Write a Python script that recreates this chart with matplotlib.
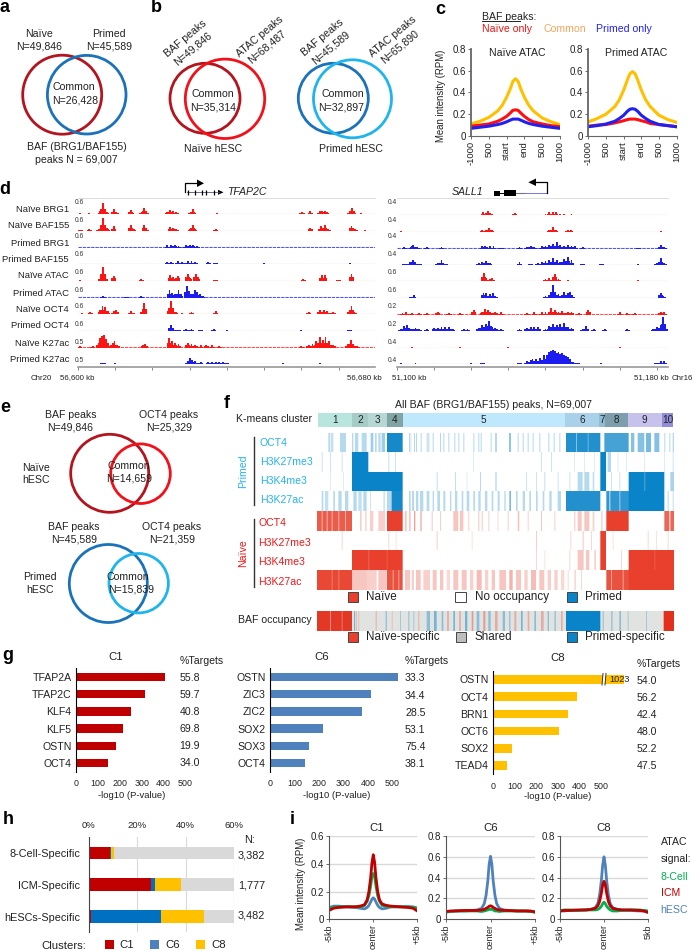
import matplotlib
matplotlib.use('Agg')

import matplotlib.pyplot as plt
import numpy as np
from matplotlib.colors import LinearSegmentedColormap
from matplotlib.patches import Circle, Rectangle, Polygon

plt.rcParams['font.family'] = ['Liberation Sans', 'DejaVu Sans']

W, H = 697, 951

# c: ATAC profiles
c_x = [0, .5, 1, 1.5, 1.75, 2, 2.2, 2.35, 2.5, 2.65, 2.8, 3, 3.25, 3.5, 4, 4.5, 5]
c_ticks = ['-1000', '500', 'start', 'end', '500', '1000']
c_n_common = [.11, .135, .17, .23, .28, .355, .43, .5, .525, .5, .43, .355, .28, .23, .165, .13, .105]
c_n_naive = [.09, .10, .11, .135, .155, .18, .21, .235, .24, .235, .21, .18, .15, .13, .11, .095, .085]
c_n_primed = [.07, .08, .09, .105, .115, .13, .145, .155, .155, .155, .145, .13, .115, .105, .09, .08, .07]
c_p_common = [.13, .16, .2, .27, .33, .42, .51, .57, .59, .57, .51, .42, .33, .27, .19, .15, .125]
c_p_naive = [.09, .10, .105, .12, .13, .14, .15, .155, .155, .155, .15, .14, .13, .115, .105, .095, .085]
c_p_primed = [.085, .095, .11, .135, .16, .19, .225, .245, .25, .245, .225, .19, .16, .135, .105, .095, .085]

# d: browser tracks, (kb from window start, height as share of the track range)
track_names = ['Naïve BRG1', 'Naïve BAF155', 'Primed BRG1', 'Primed BAF155', 'Naïve ATAC',
               'Primed ATAC', 'Naïve OCT4', 'Primed OCT4', 'Naïve K27ac', 'Primed K27ac']
track_colors = ['r', 'r', 'b', 'b', 'r', 'b', 'r', 'b', 'r', 'b']
left_scale = ['0.6'] * 8 + ['0.5'] * 2
right_scale = ['0.4', '0.4', '0.4', '0.4', '0.6', '0.6', '0.2', '0.2', '0.4', '0.4']

l_n_brg1 = [(.6, .06), (2.9, .08), (6, .2), (6.7, .7), (7.4, .35), (8.2, .1), (9.6, .33), (10.2, .12), (14.2, .25), (14.8, .1),
            (17.1, .12), (17.8, .4), (18.4, .12), (24, .12), (24.8, .25), (25.6, .2), (26.4, .15), (29.8, .1), (30.8, .33),
            (31.5, .1), (37.3, .08), (54, .05), (60.2, .12), (62.4, .19), (65, .18), (65.5, .23), (66.4, .23), (67.2, .1),
            (73.1, .15), (73.6, .38), (74.4, .1), (76, .06), (78, .05)]
l_n_baf155 = [(.6, .08), (3, .15), (5.5, .12), (6.2, .3), (6.7, .8), (7.3, .4), (8, .15), (9.6, .3), (14.2, .38), (15, .12),
              (17.8, .4), (18.4, .15), (24.8, .25), (25.6, .2), (26.4, .12), (30.2, .15), (30.8, .38), (31.4, .12), (37, .1),
              (62.4, .2), (65.2, .3), (66.3, .38), (67.2, .15), (73.5, .33), (74.5, .12), (77, .06)]
l_p_brg1 = [(24, .15), (25, .15), (26, .18), (27, .12), (29, .15), (30, .2), (30.8, .2), (32, .12)]
l_p_baf155 = [(24, .12), (25, .15), (26.8, .2), (28, .12), (29.5, .18), (30.5, .2), (31.5, .15), (35, .12), (37, .1), (50, .06), (73, .08)]
l_n_atac = [(.5, .05), (6.2, .3), (6.7, .85), (7.3, .3), (9.6, .33), (17, .1), (24.8, .4), (25.6, .25), (26.8, .33), (29.5, .45),
            (30, .2), (31.6, .45), (32.2, .25), (37, .08), (60.5, .15), (65.5, .4), (66.3, .38), (70, .08), (73.5, .45)]
l_p_atac = [(6.7, .08), (13, .06), (17, .1), (24.6, .45), (25.2, .3), (26, .2), (26.6, .2), (27, .5), (27.6, .2), (29.3, .75),
            (29.9, .4), (31, .25), (31.4, .5), (32, .35), (32.8, .2), (33.5, .1)]
l_n_oct4 = [(1, .1), (3.3, .12), (6, .3), (6.6, .5), (7.2, .45), (8, .2), (9.6, .2), (10.2, .25), (14.2, .2), (15, .1), (17.4, .25),
            (17.8, .7), (24.6, .4), (25, .85), (25.6, .35), (26.3, .15), (28, .1), (30.5, .12), (37, .2), (62, .12), (65, .3),
            (66, .25), (67, .2), (68.5, .12), (73, .25), (73.5, .55), (74.2, .15)]
l_p_oct4 = [(25, .35), (25.6, .15), (27, .08), (29, .1), (30.5, .1), (33, .08), (36.5, .12), (40, .06), (60, .05), (73, .08)]
l_n_k27ac = [(.5, .1), (4, .1), (5.5, .3), (6, .6), (6.5, .75), (7, .8), (7.5, .55), (8.2, .25), (9.3, .3), (9.8, .4), (10.5, .2),
             (17.5, .2), (18, .25), (24.5, .6), (25.2, .4), (26, .3), (27, .25), (29.5, .3), (30.5, .25), (31.5, .2), (33, .15),
             (34.5, .2), (36, .15), (38, .1), (60, .12), (62, .2), (63, .25), (64, .4), (65, .65), (65.8, .5), (66.5, .65),
             (67.5, .4), (68.5, .2), (72.5, .25), (73.3, .5), (74, .25), (75, .08)]
l_p_k27ac = [(6.7, .1), (10, .08), (29.5, .2), (30, .38), (30.6, .25), (31.5, .2), (33, .12), (35, .15), (36, .15), (37, .15),
             (38, .15), (39, .12), (40, .1), (55, .06), (65, .06)]

r_n_brg1 = [(2, .05), (4, .05), (23.2, .2), (24, .1), (24.5, .25), (25.2, .12), (31.7, .12), (40, .1), (41, .2), (42, .22),
            (42.8, .2), (43.8, .1), (45, .08), (47, .06), (54, .05), (70, .05)]
r_n_baf155 = [(1, .05), (23, .12), (24, .15), (24.7, .25), (25.5, .1), (41, .12), (42, .3), (42.8, .15), (46, .15), (46.8, .1), (71, .06)]
r_p_brg1 = [(2, .08), (4, .15), (4.3, .22), (5.5, .12), (8, .1), (12, .12), (23, .15), (23.8, .2), (25, .15), (26, .15), (28, .06),
            (33, .12), (35, .1), (36, .2), (37, .1), (39, .15), (40, .18), (41, .25), (42, .3), (43, .4), (44, .25), (45, .18),
            (46, .25), (47, .2), (48, .15), (50, .08), (65, .06), (71, .25), (72, .1)]
r_p_baf155 = [(2, .1), (3.5, .2), (4.3, .35), (5, .2), (6, .1), (11, .12), (12, .33), (13, .1), (22, .15), (23, .2), (24, .25), (25, .15),
              (33, .2), (36, .1), (38, .15), (39, .2), (40, .25), (41, .3), (42, .45), (43, .3), (44, .2), (45, .4), (46, .5), (47, .3),
              (50, .1), (55, .1), (65, .06), (70, .15), (71, .45), (72, .15)]
r_n_atac = [(23.4, .5), (24, .2), (25, .15), (25.7, .2), (40, .15), (41, .2), (42, .2), (42.5, .48), (43.5, .15), (46, .08), (65, .06)]
r_p_atac = [(4, .1), (4.5, .2), (23.3, .35), (24, .3), (25, .25), (25.8, .3), (26.5, .15), (40, .15), (41, .2), (41.5, .4), (42, .8),
            (42.7, .4), (43.5, .25), (44.5, .2), (45, .4), (46, .3), (46.5, .42), (47.2, .2), (71, .35), (71.7, .15)]
r_n_oct4 = [(1.5, .1), (2.5, .15), (4, .1), (6, .1), (8, .1), (11, .2), (14, .1), (17, .12), (20.7, .3), (23, .2), (23.8, .35), (24.5, .3),
            (25.5, .1), (26.5, .2), (28, .15), (35, .1), (37, .15), (39, .15), (40, .15), (41.5, .4), (42.5, .3), (43.5, .2), (44.5, .25),
            (46, .2), (47, .2), (49, .1), (51.5, .3), (60, .15), (62, .1), (64, .1), (71, .2), (72, .15)]
r_p_oct4 = [(1, .1), (2, .3), (2.6, .35), (3.2, .2), (4, .15), (5, .2), (6, .15), (8, .1), (10, .2), (11, .2), (12, .25), (13, .25), (14, .25),
            (15, .15), (18, .15), (19, .15), (22, .2), (23, .4), (24, .45), (24.8, .6), (25.5, .25), (26.5, .2), (28, .1), (33, .15), (35, .2),
            (36, .25), (37, .25), (38, .25), (40, .15), (41, .3), (42, .45), (43, .4), (44, .45), (45, .5), (46, .25), (47, .2), (50, .15),
            (51, .3), (53, .15), (56, .1), (62, .15), (69, .15), (70, .25), (71, .35), (71.7, .85), (72.3, .3)]
r_n_k27ac = [(4, .05), (17, .06), (30, .05), (60, .05)]
r_p_k27ac = [(1, .05), (5, .06), (20, .08), (23, .1), (33, .1), (35, .2), (36, .25), (36.5, .35), (37.5, .3), (38.5, .4), (39.5, .55), (40.5, .6),
             (41, .75), (41.5, .8), (42, .9), (42.5, .8), (43, .7), (43.5, .75), (44, .65), (44.5, .7), (45, .55), (45.5, .5), (46, .45),
             (46.5, .3), (47.5, .15), (48.5, .1), (55, .05), (70, .1), (71, .2), (72, .18)]

left_tracks = [l_n_brg1, l_n_baf155, l_p_brg1, l_p_baf155, l_n_atac, l_p_atac, l_n_oct4, l_p_oct4, l_n_k27ac, l_p_k27ac]
right_tracks = [r_n_brg1, r_n_baf155, r_p_brg1, r_p_baf155, r_n_atac, r_p_atac, r_n_oct4, r_p_oct4, r_n_k27ac, r_p_k27ac]

# f: heatmap, (first column, last column, level). 1070 columns along the peak order
cluster_ids = ['1', '2', '3', '4', '5', '6', '7', '8', '9', '10']
cluster_edges = [325, 426, 475, 531, 578, 1065, 1168, 1186, 1253, 1356, 1390]
cluster_colors = ['#b8e6de', '#a6ccc8', '#b5d8d4', '#7fa5a5', '#bfe8fc', '#a9d2ea', '#8fbdd2', '#7d9fad', '#c6c2ec', '#918dd8']

p_oct4 = [(355, 360, .3), (362, 370, .25), (390, 408, .3), (426, 430, .3), (435, 445, .3), (455, 470, .3), (482, 490, .4), (495, 500, .3),
          (505, 512, .3), (515, 525, .4), (531, 578, .95), (597, 600, .3), (601, 604, .2), (612, 615, .3), (618, 621, .3), (632, 635, .3),
          (650, 653, .3), (655, 658, .3), (668, 671, .3), (690, 693, .3), (700, 703, .3), (715, 718, .3), (733, 736, .3), (745, 748, .3),
          (760, 763, .3), (790, 793, .3), (805, 808, .3), (812, 815, .3), (842, 845, .3), (855, 858, .3), (895, 899, .7), (920, 923, .3),
          (935, 938, .3), (950, 953, .3), (965, 968, .3), (985, 988, .3), (1012, 1015, .3), (1028, 1031, .3), (1045, 1048, .3),
          (1065, 1095, .9), (1095, 1098, .5), (1098, 1130, .9), (1130, 1133, .6), (1133, 1168, .9), (1180, 1253, .75), (1260, 1270, .5),
          (1280, 1300, .5), (1305, 1320, .55), (1330, 1345, .5), (1360, 1363, .3), (1375, 1378, .3), (1385, 1390, .3)]
p_me3 = [(335, 338, .2), (360, 363, .2), (395, 398, .2), (426, 475, 1), (535, 538, .25), (555, 558, .2), (790, 792, .2), (990, 993, .2),
         (1020, 1023, .2), (1090, 1092, .2), (1120, 1122, .2), (1150, 1152, .2), (1168, 1185, 1), (1190, 1200, .3), (1220, 1222, .2),
         (1245, 1247, .2), (1300, 1302, .2), (1360, 1362, .2), (1385, 1388, .2)]
p_k4 = [(360, 362, .2), (400, 402, .2), (426, 578, 1), (680, 683, .25), (735, 738, .25), (770, 772, .2), (810, 813, .3), (855, 858, .2),
        (945, 948, .2), (975, 978, .2), (1000, 1003, .25), (1040, 1043, .2), (1075, 1078, .2), (1100, 1115, .3), (1120, 1135, .3),
        (1145, 1150, .25), (1168, 1185, 1), (1200, 1203, .2), (1225, 1228, .2), (1253, 1300, 1), (1300, 1303, .7), (1303, 1360, 1), (1378, 1390, .35)]
p_k27 = [(335, 340, .3), (345, 355, .25), (370, 375, .3), (385, 395, .3), (405, 415, .3), (430, 440, .3), (445, 455, .25), (460, 470, .3),
         (480, 483, .2), (520, 525, .2), (531, 545, .3), (545, 578, .95), (597, 602, .3), (606, 612, .3), (618, 625, .3), (630, 640, .3),
         (650, 658, .3), (668, 672, .3), (682, 690, .3), (700, 706, .3), (720, 724, .3), (735, 742, .3), (755, 760, .3), (770, 778, .3),
         (790, 795, .3), (805, 812, .3), (825, 832, .3), (845, 850, .3), (860, 866, .3), (880, 884, .3), (895, 900, .55), (915, 920, .3),
         (935, 942, .3), (955, 960, .3), (975, 980, .3), (995, 1000, .3), (1015, 1022, .3), (1040, 1050, .3), (1065, 1168, .9),
         (1186, 1195, .85), (1195, 1198, .2), (1198, 1225, .85), (1225, 1228, .4), (1228, 1253, .85), (1253, 1360, 1), (1370, 1373, .3), (1385, 1388, .25)]
n_oct4 = [(321, 335, .85), (335, 338, .4), (338, 350, .85), (350, 353, .4), (353, 365, .85), (365, 368, .4), (368, 385, .85), (385, 388, .4),
          (388, 405, .85), (405, 408, .4), (408, 426, .85), (450, 455, .25), (465, 470, .2), (480, 490, .25), (505, 525, .25), (531, 578, 1),
          (585, 590, .3), (597, 602, .3), (612, 616, .5), (630, 636, .3), (665, 668, .3), (690, 693, .25), (730, 745, .3), (750, 760, .3),
          (775, 778, .25), (805, 808, .3), (815, 818, .3), (835, 838, .25), (860, 862, .3), (890, 893, .25), (920, 925, .3), (950, 953, .25),
          (990, 993, .3), (1030, 1033, .25), (1090, 1093, .3), (1100, 1112, .3), (1120, 1135, .3), (1145, 1150, .25), (1170, 1175, .2),
          (1186, 1253, 1), (1360, 1375, .8), (1378, 1390, .8)]
n_me3 = [(395, 398, .2), (535, 538, .2), (557, 560, .15), (680, 683, .25), (785, 788, .15), (975, 978, .25), (1078, 1081, .2), (1115, 1118, .3),
         (1140, 1143, .2), (1168, 1185, 1), (1205, 1208, .15), (1310, 1313, .2), (1335, 1338, .15), (1370, 1373, .2)]
n_k4 = [(426, 475, 1), (475, 478, .8), (478, 530, 1), (530, 533, .85), (533, 578, 1), (975, 978, .2), (1000, 1003, .15), (1075, 1078, .2),
        (1100, 1118, .3), (1125, 1135, .3), (1150, 1155, .25), (1168, 1185, 1), (1230, 1233, .2), (1253, 1330, 1), (1330, 1333, .85), (1333, 1390, 1)]
n_k27 = [(321, 365, .95), (365, 368, .7), (368, 385, .95), (385, 388, .7), (388, 426, .95), (426, 470, .3), (470, 500, .25), (505, 530, .3),
         (531, 548, .9), (548, 551, .5), (551, 565, .9), (565, 568, .5), (568, 578, .9), (585, 600, .3), (605, 612, .25), (618, 632, .3),
         (640, 660, .25), (668, 680, .3), (690, 700, .3), (710, 720, .2), (730, 745, .3), (755, 770, .3), (780, 790, .25), (800, 815, .35),
         (825, 835, .25), (845, 855, .3), (865, 885, .3), (895, 905, .4), (915, 930, .3), (940, 950, .25), (960, 975, .35), (985, 1000, .3),
         (1010, 1020, .25), (1030, 1040, .25), (1050, 1060, .2), (1070, 1073, .2), (1090, 1095, .2), (1110, 1113, .2), (1186, 1200, .9),
         (1200, 1203, .5), (1203, 1235, .9), (1235, 1238, .5), (1238, 1253, .9), (1253, 1390, 1)]
# BAF occupancy: -1 naive specific, 0 shared, +1 primed specific
baf_occ = [(321, 426, -.95), (360, 363, -.5), (395, 398, -.6), (432, 436, .5), (437, 440, -.3), (445, 448, -.2), (497, 500, -.3), (527, 530, .5),
           (545, 548, -.2), (570, 573, .3), (595, 598, .4), (610, 613, .3), (625, 628, -.3), (650, 660, .4), (672, 680, .5), (695, 700, .4),
           (712, 716, -.4), (730, 735, .5), (748, 752, -.4), (765, 772, .5), (785, 790, -.4), (800, 808, .4), (820, 826, -.4), (835, 842, .4),
           (855, 860, -.3), (875, 882, .4), (895, 898, .5), (910, 916, -.3), (930, 935, .5), (950, 955, -.3), (970, 975, .4), (990, 998, -.3),
           (1010, 1014, .4), (1030, 1035, .3), (1050, 1055, -.3), (1065, 1168, 1), (1175, 1178, .4), (1200, 1205, .3), (1225, 1230, .4),
           (1250, 1253, .3), (1305, 1308, .3), (1358, 1390, -1)]

# g: motif enrichment
c1_names = ['TFAP2A', 'TFAP2C', 'KLF4', 'KLF5', 'OSTN', 'OCT4']
c1_vals = [405, 315, 252, 216, 182, 147]
c1_pct = ['55.8', '59.7', '40.8', '69.8', '19.9', '34.0']
c6_names = ['OSTN', 'ZIC3', 'ZIC2', 'SOX2', 'SOX3', 'OCT4']
c6_vals = [522, 414, 374, 214, 158, 142]
c6_pct = ['33.3', '34.4', '28.5', '53.1', '75.4', '38.1']
c8_names = ['OSTN', 'OCT4', 'BRN1', 'OCT6', 'SOX2', 'TEAD4']
c8_vals = [606, 387, 344, 302, 86, 63]  # first bar runs over an axis break, its real value is 1023
c8_pct = ['54.0', '56.2', '42.4', '48.0', '52.2', '47.5']
g_ticks = [0, 100, 200, 300, 400, 500]

# h: share of specific peaks per cluster
h_names = ['8-Cell-Specific', 'ICM-Specific', 'hESCs-Specific']
h_c1 = [8.8, 25.7, .8]
h_c6 = [.4, 1.5, 28.9]
h_c8 = [1.2, 10.9, 17.9]
h_n = ['3,382', '1,777', '3,482']

# i: ATAC signal at the cluster peaks
i_x = [-5, -4.5, -4, -3, -2, -1.5, -1, -.7, -.5, -.3, -.15, 0, .15, .3, .5, .7, 1, 1.5, 2, 3, 4, 4.5, 5]
i1_icm = [.065, .08, .085, .09, .09, .095, .105, .14, .2, .3, .41, .465, .41, .3, .2, .14, .11, .1, .095, .09, .085, .08, .06]
i1_8c = [.08, .085, .09, .09, .09, .09, .1, .13, .17, .24, .31, .33, .31, .24, .17, .13, .1, .095, .09, .09, .09, .085, .08]
i1_hesc = [.085, .095, .095, .09, .085, .08, .075, .085, .1, .125, .145, .155, .145, .125, .1, .085, .075, .08, .09, .09, .09, .09, .08]
i6_icm = [.075, .08, .08, .085, .085, .085, .09, .095, .105, .115, .125, .13, .125, .115, .105, .095, .09, .085, .085, .08, .08, .08, .07]
i6_8c = [.07, .075, .08, .08, .08, .08, .075, .08, .085, .09, .095, .095, .095, .09, .08, .08, .075, .08, .08, .08, .08, .075, .07]
i6_hesc = [.07, .075, .08, .08, .085, .09, .105, .15, .23, .37, .53, .605, .53, .37, .23, .15, .105, .09, .085, .08, .08, .075, .07]
i8_icm = [.08, .085, .085, .09, .09, .095, .105, .13, .17, .25, .33, .365, .33, .25, .17, .13, .105, .095, .09, .09, .085, .08, .065]
i8_8c = [.08, .09, .09, .085, .09, .09, .09, .095, .105, .125, .15, .165, .15, .125, .105, .09, .08, .08, .085, .09, .09, .085, .08]
i8_hesc = [.08, .08, .085, .085, .09, .095, .11, .15, .23, .37, .52, .6, .52, .37, .23, .15, .11, .095, .09, .085, .08, .08, .07]

RED_D, RED, BLUE_D, BLUE_L = '#b3141d', '#f2111a', '#1a72ba', '#1fb5ec'
HM_RED, HM_BLUE = '#e8402c', '#0a84c8'
C1_COL, C6_COL, C8_COL, GREY = '#c00000', '#4f81bd', '#ffc000', '#d9d9d9'
TXT = '#222222'

fig = plt.figure(figsize=(W / 100, H / 100), dpi=100)


def px_axes(x0, y0, x1, y1):
    return fig.add_axes([x0 / W, 1 - y1 / H, (x1 - x0) / W, (y1 - y0) / H])


# overlay in picture pixels, for the labels and the Venn rings
ov = fig.add_axes([0, 0, 1, 1], zorder=10)
ov.set_xlim(0, W)
ov.set_ylim(H, 0)
ov.axis('off')


def t(x, y, s, size=7.6, ha='center', color=TXT, **kw):
    ov.text(x, y, s, fontsize=size, ha=ha, va='center', color=color, **kw)


def ring(x, y, r, col):
    ov.add_patch(Circle((x, y), r, fill=False, ec=col, lw=2.0))


def swatch(x0, y0, x1, y1, col, ec='#444444'):
    ov.add_patch(Rectangle((x0, y0), x1 - x0, y1 - y0, fc=col, ec=ec, lw=.7))


for s, x, y in [('a', 5, 8), ('b', 156, 8), ('c', 440, 9), ('d', 5, 190), ('e', 5, 408),
                ('f', 227, 403), ('g', 8, 655), ('h', 8, 819), ('i', 292, 820)]:
    t(x, y, s, size=13, color='k', fontweight='bold')

# a
ring(62.2, 94.7, 39.5, RED_D)
ring(86.7, 94.7, 39.3, BLUE_D)
for x, y, s in [(39.5, 34, 'Naïve'), (39.5, 46.7, 'N=49,846'), (108.7, 34, 'Primed'), (108.7, 46.7, 'N=45,589'),
                (74.3, 87.3, 'Common'), (74.7, 100.7, 'N=26,428'), (76.7, 147, 'BAF (BRG1/BAF155)'), (76, 160, 'peaks N = 69,007')]:
    t(x, y, s)

# b
ring(205, 98.3, 35, RED_D)
ring(225, 98.8, 39.7, RED)
ring(333.3, 98.3, 35, BLUE_D)
ring(352.5, 98.8, 39, BLUE_L)
for x, y, s in [(186, 39, 'BAF peaks'), (193, 49, 'N=49,846'), (260, 37, 'ATAC peaks'), (267, 47, 'N=68,487'),
                (323, 38, 'BAF peaks'), (331, 48, 'N=45,589'), (393, 37, 'ATAC peaks'), (400, 47, 'N=65,890')]:
    t(x, y, s, rotation=40, rotation_mode='anchor')
for x, y, s in [(213, 94, 'Common'), (213, 107, 'N=35,314'), (343, 94, 'Common'), (341, 107, 'N=32,897'),
                (213, 149, 'Naïve hESC'), (351, 149, 'Primed hESC')]:
    t(x, y, s)

# c
t(482, 17, 'BAF peaks:', ha='left')
ov.plot([482, 520], [21, 21], color=TXT, lw=.7)
t(482, 29, 'Naïve only', ha='left', color='#f01515')
t(543, 29, 'Common', ha='left', color='#f5a55c')
t(596, 29, 'Primed only', ha='left', color='#2222ee')
t(517, 53, 'Naïve ATAC')
t(636, 53, 'Primed ATAC')
t(441, 96, 'Mean intensity (RPM)', size=6.9, rotation=90)
for rect, common, naive, primed in [((471, 48.7, 560, 136), c_n_common, c_n_naive, c_n_primed),
                                    ((588.3, 48.7, 676.7, 136), c_p_common, c_p_naive, c_p_primed)]:
    ax = px_axes(*rect)
    ax.plot(c_x, common, color='#ffc000', lw=2.2)
    ax.plot(c_x, naive, color='#ff1010', lw=2.2)
    ax.plot(c_x, primed, color='#2020f0', lw=2.2)
    ax.set_xlim(0, 5)
    ax.set_ylim(0, .8)
    ax.set_yticks([0, .2, .4, .6, .8])
    ax.set_yticklabels(['0', '0.2', '0.4', '0.6', '0.8'], fontsize=7, color=TXT)
    ax.set_xticks(range(6))
    ax.set_xticklabels(c_ticks, rotation=90, fontsize=6.8, color=TXT)
    ax.tick_params(length=2, pad=1.5, width=.6, color='#555555')
    ax.spines[['top', 'right']].set_visible(False)
    ax.spines[['left', 'bottom']].set_color('#666666')
    ax.spines['left'].set_linewidth(1.3)
    ax.patch.set_alpha(0)

# d
left_base = [214.3, 231, 247.7, 264.3, 281, 297.7, 314.3, 331, 347.7, 364.3]
right_base = [215.3, 232, 248.7, 265.3, 281.3, 298.3, 314.7, 331, 348, 364.3]
label_y = [209, 226, 243, 259, 276, 293, 309, 326, 343, 359]
scale_y = [202, 220, 237, 255, 272, 290, 307, 325, 343, 360]
TRACK_COL = {'r': '#ff1414', 'b': '#1c1cf0'}


def draw_tracks(x0, x1, xmax, bases, tracks):
    for base, pts, c in zip(bases, tracks, track_colors):
        ax = px_axes(x0, base - 16, x1, base)
        pos = np.array([p[0] for p in pts])
        val = np.array([p[1] for p in pts])
        # each peak gets a wider foot under the narrow tip
        ax.bar(pos, val * .5, width=1.4, color=TRACK_COL[c], lw=0)
        ax.bar(pos, val, width=.5, color=TRACK_COL[c], lw=0)
        ax.plot([0, xmax], [.03, .03], color=TRACK_COL[c], lw=.8, ls=(0, (3, .8)), alpha=.75)
        ax.set_xlim(0, xmax)
        ax.set_ylim(0, 1)
        ax.axis('off')
    rul = px_axes(x0, 362, x1, 367)
    rul.set_xlim(0, xmax)
    rul.set_xticks(np.arange(0, xmax + .1, 10))
    rul.set_yticks([])
    rul.set_xticklabels([])
    rul.tick_params(length=2.5, width=.7, color='#888888')
    rul.spines[['top', 'left', 'right']].set_visible(False)
    rul.spines['bottom'].set_color('#999999')
    rul.spines['bottom'].set_linewidth(1.2)
    rul.patch.set_alpha(0)
    ov.plot([x0, x1], [198, 198], color='#dddddd', lw=.7)


draw_tracks(78, 375, 79.8, left_base, left_tracks)
draw_tracks(397, 668, 73, right_base, right_tracks)
for name, y in zip(track_names, label_y):
    t(69, y, name, size=6.8, ha='right')
for a, b, y in zip(left_scale, right_scale, scale_y):
    t(74.3, y, a, size=4.8, ha='left', color='#333333')
    t(387.7, y, b, size=4.8, ha='left', color='#333333')
for x, s in [(41, 'Chr20'), (77, '56,600 kb'), (364, '56,680 kb'), (409, '51,100 kb'), (651, '51,180 kb'), (682, 'Chr16')]:
    t(x, 378, s, size=5.7)

# gene models
ov.plot([185, 185, 198], [192, 183.3, 183.3], color='k', lw=.9)
ov.add_patch(Polygon([(197, 179.5), (204, 183.3), (197, 187)], fc='k', ec='none'))
ov.plot([187, 219], [192.3, 192.3], color='#555577', lw=.6)
ov.vlines([188.3, 195, 202.3, 205.7, 214.3], 189.5, 195, color='k', lw=.9)
ov.add_patch(Polygon([(218, 189.8), (223.5, 192.3), (218, 194.8)], fc='k', ec='none'))
t(227, 192, 'TFAP2C', size=7.6, ha='left', style='italic')
t(452, 192, 'SALL1', size=7.6, ha='left', style='italic')
ov.plot([494, 516], [193.3, 193.3], color='k', lw=.7)
ov.plot([516, 525], [193.3, 193.3], color='#777777', lw=.8)
ov.plot([525, 547.3], [193.3, 193.3], color='#7777dd', lw=.7)
ov.add_patch(Rectangle((494, 191), 6, 4.6, fc='k', ec='none'))
ov.add_patch(Rectangle((504, 190.3), 12, 6, fc='k', ec='none'))
ov.plot([547.3, 547.3, 535], [193.3, 182.3, 182.3], color='k', lw=.9)
ov.add_patch(Polygon([(536, 178.5), (528.3, 182.3), (536, 186)], fc='k', ec='none'))

# e
ring(109.7, 473.3, 39, RED_D)
ring(140.5, 473.7, 29.8, RED)
ring(108.3, 583.5, 39, BLUE_D)
ring(138.7, 583.2, 29.7, BLUE_L)
for x, y, s in [(70.3, 415.3, 'BAF peaks'), (70.3, 427.7, 'N=49,846'), (169, 415.3, 'OCT4 peaks'), (169, 427.7, 'N=25,329'),
                (129, 465.7, 'Common'), (129, 478.3, 'N=14,659'), (73.7, 526.7, 'BAF peaks'), (73.7, 539, 'N=45,589'),
                (172, 526.7, 'OCT4 peaks'), (172, 539, 'N=21,359'), (128.3, 576.7, 'Common'), (130.7, 589.3, 'N=15,839'),
                (39.7, 577.3, 'Primed'), (39.7, 590, 'hESC')]:
    t(x, y, s)
t(22.3, 467.7, 'Naïve', ha='left')
t(22.3, 480.3, 'hESC', ha='left')


# f
def heat_row(items):
    # 1070 fine columns, averaged down by 3 to one cell per picture pixel
    row = np.zeros(1068)
    for a, b, v in items:
        row[a - 321:b - 321] = v
    return row.reshape(-1, 3).mean(axis=1)


HX0, HX1 = 317, 673.3
ax = px_axes(HX0, 433, HX1, 511)
ax.imshow([heat_row(r) for r in [p_oct4, p_me3, p_k4, p_k27]], aspect='auto', vmin=0, vmax=1, interpolation='nearest',
          cmap=LinearSegmentedColormap.from_list('p', ['white', HM_BLUE]))
ax.axis('off')
ax = px_axes(HX0, 511, HX1, 590)
ax.imshow([heat_row(r) for r in [n_oct4, n_me3, n_k4, n_k27]], aspect='auto', vmin=0, vmax=1, interpolation='nearest',
          cmap=LinearSegmentedColormap.from_list('n', ['white', HM_RED]))
ax.axis('off')
ax = px_axes(HX0, 611, HX1, 631)
ax.imshow([heat_row(baf_occ)], aspect='auto', vmin=-1, vmax=1, interpolation='nearest',
          cmap=LinearSegmentedColormap.from_list('o', ['#e3301c', '#e2e4e2', HM_BLUE]))
ax.axis('off')

ax = px_axes(HX0, 413, HX1, 427)
ax.bar(cluster_edges[:-1], [1] * 10, width=np.diff(cluster_edges), align='edge', color=cluster_colors, lw=0)
ax.set_xlim(321, 1390)
ax.set_ylim(0, 1)
ax.axis('off')
for i, s in enumerate(cluster_ids):
    mid = (cluster_edges[i] + cluster_edges[i + 1]) / 2
    t(HX0 + (mid - 321) * (HX1 - HX0) / 1069, 420, s, size=7.2)

t(493.3, 405, 'All BAF (BRG1/BAF155) peaks, N=69,007', size=7.6)
t(312, 419.3, 'K-means cluster', size=7.6, ha='right')
for y, s in zip([442.7, 461.7, 481, 500.3], ['OCT4', 'H3K27me3', 'H3K4me3', 'H3K27ac']):
    t(260, y, s, ha='left', color='#25b4ea')
for y, s in zip([523.3, 542.7, 562, 581.7], ['OCT4', 'H3K27me3', 'H3K4me3', 'H3K27ac']):
    t(258.3, y, s, ha='left', color='#f01818')
ov.plot([254, 254], [436.7, 505], color='#333333', lw=1)
ov.plot([254, 254], [519.3, 587.3], color='#333333', lw=1)
t(242.7, 471, 'Primed', rotation=90, color='#25b4ea')
t(242.7, 553.3, 'Naïve', rotation=90, color='#f01818')

swatch(347.7, 592.3, 357.7, 602.3, HM_RED)
t(366, 597.3, 'Naïve', size=8.4, ha='left')
swatch(455, 592.3, 465.5, 602.3, 'white')
t(475, 597.3, 'No occupancy', size=8.4, ha='left')
swatch(566.7, 592.3, 577.3, 602.3, HM_BLUE)
t(585, 597.3, 'Primed', size=8.4, ha='left')
t(311.7, 620, 'BAF occupancy', ha='right')
swatch(347.7, 632.3, 357.7, 642.3, HM_RED)
t(366, 637.3, 'Naïve-specific', size=8.4, ha='left')
swatch(456, 632.3, 466, 642.3, '#bdbdbd')
t(474.3, 637.3, 'Shared', size=8.4, ha='left')
swatch(566.7, 632.3, 577.3, 642.3, HM_BLUE)
t(585, 637.3, 'Primed-specific', size=8.4, ha='left')


# g
def motif_bars(rect, xmax, names, vals, col):
    ax = px_axes(*rect)
    ax.barh(range(6), vals, height=.5, color=col, lw=0)
    ax.set_ylim(5.5, -.5)
    ax.set_xlim(0, xmax)
    ax.set_yticks(range(6))
    ax.set_yticklabels(names, fontsize=7.6, color=TXT)
    ax.set_xticks(g_ticks)
    ax.set_xticklabels(g_ticks, fontsize=6.4, color=TXT)
    ax.tick_params(axis='y', length=0, pad=3.5)
    ax.tick_params(axis='x', length=0, pad=5.5)
    ax.spines[['top', 'right', 'bottom']].set_visible(False)
    ax.spines['left'].set_color('k')
    ax.patch.set_alpha(0)


motif_bars((76.3, 668.3, 185.3, 771.7), 500, c1_names, c1_vals, C1_COL)
motif_bars((270.3, 668.3, 399.6, 771.7), 530, c6_names, c6_vals, C6_COL)
motif_bars((493.3, 670.8, 627.2, 774), 620, c8_names, c8_vals, C8_COL)

t(116, 656.7, 'C1', size=8.2)
t(321.7, 656.7, 'C6', size=8.2)
t(557.7, 658.3, 'C8', size=8.2)
t(179.3, 661.3, '%Targets', ha='left')
t(405, 661.3, '%Targets', ha='left')
t(637, 664, '%Targets', ha='left')
for y, s in zip([678, 695, 712.3, 729.3, 746.3, 763.3], c1_pct):
    t(179.3, y, s, ha='left')
for y, s in zip([678.3, 695.7, 712.7, 729.7, 746.7, 763.7], c6_pct):
    t(405, y, s, ha='left')
for y, s in zip([681, 698, 715.3, 732.3, 749.3, 766], c8_pct):
    t(637, y, s, ha='left')
t(131.7, 796, '-log10 (P-value)', size=6.8)
t(336.7, 796, '-log10 (P-value)', size=6.8)
t(557.3, 796.7, '-log10 (P-value)', size=6.8)
ov.add_patch(Polygon([(602, 683.7), (603, 675), (606, 675), (605, 683.7)], fc='white', ec='none'))
ov.plot([602, 603], [685, 673.5], color='#333333', lw=.7)
ov.plot([605, 606], [685, 673.5], color='#333333', lw=.7)
t(609.7, 680, '1023', size=6.6, ha='left')

# h
ax = px_axes(88.7, 837.3, 234, 932.3)
ypos = range(3)
c1 = np.array(h_c1)
c6 = np.array(h_c6)
c8 = np.array(h_c8)
ax.barh(ypos, c1, height=.4, color=C1_COL, lw=0, zorder=3)
ax.barh(ypos, c6, left=c1, height=.4, color='#0070c0', lw=0, zorder=3)
ax.barh(ypos, c8, left=c1 + c6, height=.4, color=C8_COL, lw=0, zorder=3)
ax.barh(ypos, 60 - c1 - c6 - c8, left=c1 + c6 + c8, height=.4, color=GREY, lw=0, zorder=3)
ax.set_ylim(2.49, -.49)
ax.set_xlim(0, 60)
ax.set_yticks(ypos)
ax.set_yticklabels(h_names, fontsize=7.8, color=TXT)
ax.set_xticks([0, 20, 40, 60])
ax.set_xticklabels(['0%', '20%', '40%', '60%'], fontsize=6.8, color=TXT)
ax.xaxis.tick_top()
ax.grid(axis='x', color='#d9d9d9', lw=.8, zorder=0)
ax.tick_params(length=0, pad=5)
ax.tick_params(axis='y', pad=6)
ax.spines[['top', 'right', 'bottom']].set_visible(False)
ax.spines['left'].set_color('#444444')
ax.spines['left'].set_zorder(5)
t(250, 839.7, 'N:', size=7.8)
for y, s in zip([856, 886, 916], h_n):
    t(238, y, s, size=7.8, ha='left')
t(41.7, 945.7, 'Clusters:', size=8.2, ha='left')
for x0, x1, tx, col, s in [(104.7, 114, 119.3, C1_COL, 'C1'), (150, 159, 165.3, C6_COL, 'C6'), (195.7, 205, 211.3, C8_COL, 'C8')]:
    ov.add_patch(Rectangle((x0, 939.7), x1 - x0, 9.3, fc=col, ec='none'))
    t(tx, 945, s, size=8.2, ha='left')

# i
i_panels = [((329.3, 836, 417.3, 919.3), .6, ['-5kb', 'center', '+5kb'], i1_hesc, i1_8c, i1_icm, 'C1', 376.7),
            ((446, 836, 535, 919.3), .8, ['-5kb', 'center', '+5kb'], i6_hesc, i6_8c, i6_icm, 'C6', 490.7),
            ((559.7, 836, 648.3, 919.3), .8, ['-5kb', 'center', '5kb'], i8_hesc, i8_8c, i8_icm, 'C8', 604)]
for rect, top, xt, hesc, cell8, icm, title, tx in i_panels:
    ax = px_axes(*rect)
    yt = np.arange(0, top + .01, .2)
    ax.hlines(yt[1:], -5, 5, color='#d9d9d9', lw=1, zorder=0)
    ax.plot(i_x, hesc, color=C6_COL, lw=2)
    ax.plot(i_x, cell8, color='#00b050', lw=2)
    ax.plot(i_x, icm, color=C1_COL, lw=2)
    ax.set_xlim(-5, 5)
    ax.set_ylim(0, top)
    ax.set_yticks(yt)
    ax.set_yticklabels(['0'] + ['%.1f' % v for v in yt[1:]], fontsize=7, color=TXT)
    ax.set_xticks([-5, 0, 5])
    ax.set_xticklabels(xt, rotation=90, fontsize=6.4, color=TXT)
    ax.tick_params(length=2, pad=1.5, width=.6, color='#555555')
    ax.spines[['top', 'right']].set_visible(False)
    ax.spines[['left', 'bottom']].set_color('#555555')
    ax.patch.set_alpha(0)
    t(tx, 828.3, title, size=8.2)
t(300.7, 884, 'Mean intensity (RPM)', size=6.9, rotation=90)
t(660.7, 842.3, 'ATAC', ha='left')
t(660.7, 859.3, 'signal:', ha='left')
t(660.7, 876.7, '8-Cell', ha='left', color='#00b050')
t(660.7, 893.3, 'ICM', ha='left', color=C1_COL)
t(660.7, 910, 'hESC', ha='left', color=C6_COL)

fig.savefig('out.png', dpi=100)
